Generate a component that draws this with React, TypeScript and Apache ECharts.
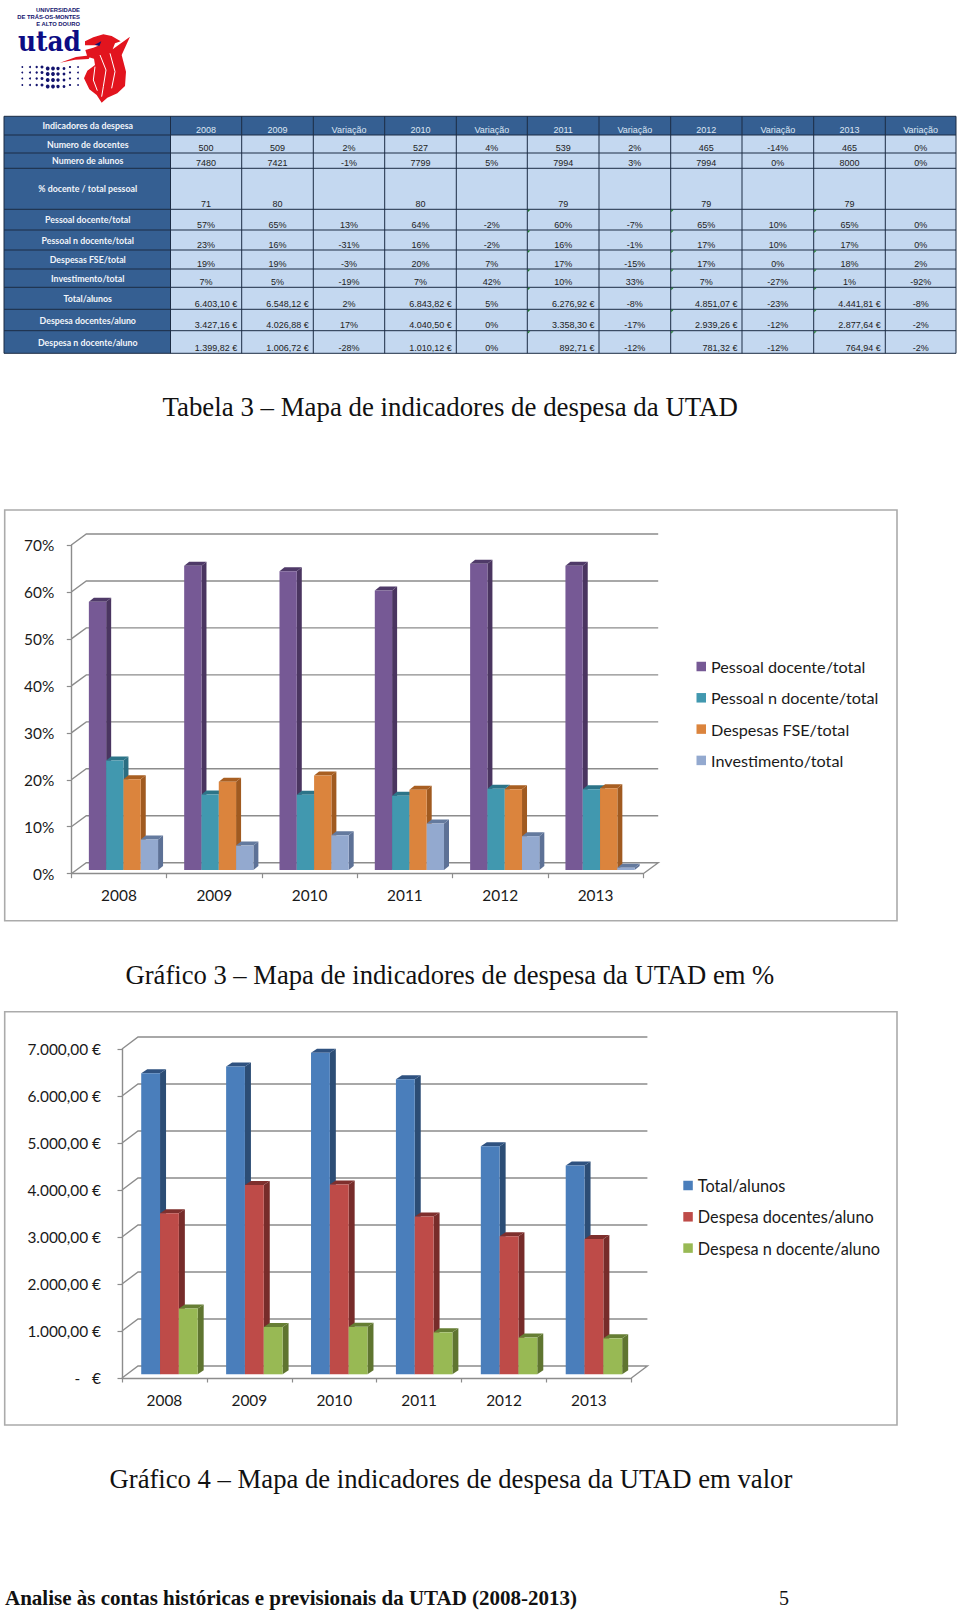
import React, { useEffect, useRef } from "react";
import * as echarts from "echarts";

const years = ["2008", "2009", "2010", "2011", "2012", "2013"];

const pessoalDocente = [57.1, 64.8, 63.6, 59.5, 65.2, 64.8];
const pessoalNDocente = [23.3, 16.1, 16.0, 15.8, 17.3, 17.2];
const despesasFSE = [19.3, 18.8, 20.1, 17.1, 17.2, 17.4];
const investimento = [6.5, 5.2, 7.4, 9.9, 7.2, 0.5];

const totalAlunos = [6403.1, 6548.12, 6843.82, 6276.92, 4851.07, 4441.81];
const despesaDocentes = [3427.16, 4026.88, 4040.5, 3358.3, 2939.26, 2877.64];
const despesaNDocente = [1399.82, 1006.72, 1010.12, 892.71, 781.32, 764.94];

const pctTicks = ["0%", "10%", "20%", "30%", "40%", "50%", "60%", "70%"];
const eurTicks = ["-   €", "1.000,00 €", "2.000,00 €", "3.000,00 €", "4.000,00 €", "5.000,00 €", "6.000,00 €", "7.000,00 €"];

const tableHeader = ["Indicadores da despesa", "2008", "2009", "Variação", "2010", "Variação", "2011", "Variação", "2012", "Variação", "2013", "Variação"];
const rowDocentes = ["Numero de docentes", "500", "509", "2%", "527", "4%", "539", "2%", "465", "-14%", "465", "0%"];
const rowAlunos = ["Numero de alunos", "7480", "7421", "-1%", "7799", "5%", "7994", "3%", "7994", "0%", "8000", "0%"];
const rowPctDocente = ["% docente / total pessoal", "71", "80", "", "80", "", "79", "", "79", "", "79", ""];
const rowPessoalD = ["Pessoal docente/total", "57%", "65%", "13%", "64%", "-2%", "60%", "-7%", "65%", "10%", "65%", "0%"];
const rowPessoalN = ["Pessoal n docente/total", "23%", "16%", "-31%", "16%", "-2%", "16%", "-1%", "17%", "10%", "17%", "0%"];
const rowFSE = ["Despesas FSE/total", "19%", "19%", "-3%", "20%", "7%", "17%", "-15%", "17%", "0%", "18%", "2%"];
const rowInvest = ["Investimento/total", "7%", "5%", "-19%", "7%", "42%", "10%", "33%", "7%", "-27%", "1%", "-92%"];
const rowTotal = ["Total/alunos", "6.403,10 €", "6.548,12 €", "2%", "6.843,82 €", "5%", "6.276,92 €", "-8%", "4.851,07 €", "-23%", "4.441,81 €", "-8%"];
const rowDespD = ["Despesa docentes/aluno", "3.427,16 €", "4.026,88 €", "17%", "4.040,50 €", "0%", "3.358,30 €", "-17%", "2.939,26 €", "-12%", "2.877,64 €", "-2%"];
const rowDespN = ["Despesa n docente/aluno", "1.399,82 €", "1.006,72 €", "-28%", "1.010,12 €", "0%", "892,71 €", "-12%", "781,32 €", "-12%", "764,94 €", "-2%"];
const tableRows = [tableHeader, rowDocentes, rowAlunos, rowPctDocente, rowPessoalD, rowPessoalN, rowFSE, rowInvest, rowTotal, rowDespD, rowDespN];

const colEdges = [4, 170.5, 241.7, 313.3, 384.7, 456.3, 527.3, 599, 670.7, 742, 813.7, 885.3, 956];
const rowEdges = [116.3, 135, 153, 168.3, 209.3, 230, 250, 269, 287.3, 309.3, 330.7, 353.3];

const SANS = "Lato";
const ARIAL = "Liberation Sans";
const SERIF = "Liberation Serif";

function build3DBar(color: string, side: string, top: string, idx: number, count: number, cfg: any) {
  return (params: any, api: any) => {
    const band = api.size([1, 0])[0];
    const c = api.coord([api.value(0), api.value(1)]);
    const zero = api.coord([api.value(0), 0]);
    const w = (band * cfg.barFrac) / count;
    const xl = c[0] - (band * cfg.barFrac) / 2 + idx * w + cfg.baseX;
    const xr = xl + w;
    const yt = c[1] - cfg.baseY;
    const yb = zero[1] - cfg.baseY;
    const d = cfg.depthX;
    const h = cfg.depthY;
    return {
      type: "group",
      children: [
        { type: "polygon", shape: { points: [[xr, yt], [xr + d, yt - h], [xr + d, yb - h], [xr, yb]] }, style: { fill: side } },
        { type: "polygon", shape: { points: [[xl, yt], [xl + d, yt - h], [xr + d, yt - h], [xr, yt]] }, style: { fill: top } },
        { type: "rect", shape: { x: xl, y: yt, width: w, height: yb - yt }, style: { fill: color } },
      ],
    };
  };
}

function buildWall(cfg: any) {
  return (params: any, api: any) => {
    const y = api.coord([0, api.value(0)])[1];
    const r = params.coordSys;
    const bx = cfg.wallX;
    const by = y - cfg.wallY;
    const pts: number[][] = [[r.x, y], [r.x + bx, by], [r.x + r.width + bx, by]];
    if (api.value(0) === 0) pts.push([r.x + r.width, y]);
    return { type: "polyline", shape: { points: pts }, style: { stroke: "#8c8c8c", lineWidth: 1.4, fill: "none" } };
  };
}

function buildChart(cfg: any, index: number) {
  const axisLine = { show: true, lineStyle: { color: "#8c8c8c", width: 1.4 } };
  const tick = { show: true, length: 4.5, lineStyle: { color: "#8c8c8c", width: 1.2 } };
  const grid = { left: cfg.left, width: cfg.width, top: cfg.top, height: cfg.height };
  const xAxis = {
    type: "category",
    gridIndex: index,
    data: years,
    axisLine,
    axisTick: tick,
    axisLabel: { fontFamily: SANS, fontSize: cfg.fontSize, color: "#1a1a1a", margin: cfg.xMargin },
    splitLine: { show: false },
  };
  const yAxis = {
    type: "value",
    gridIndex: index,
    min: 0,
    max: cfg.max,
    interval: cfg.max / 7,
    axisLine,
    axisTick: tick,
    splitLine: { show: false },
    axisLabel: {
      fontFamily: SANS,
      fontSize: cfg.fontSize,
      color: "#1a1a1a",
      margin: cfg.yMargin,
      formatter: (v: number) => cfg.ticks[Math.round(v / (cfg.max / 7))],
    },
  };
  const tickValues = cfg.ticks.map((_: string, i: number) => [(i * cfg.max) / 7]);
  const series: any[] = [
    {
      type: "custom",
      name: "wall" + index,
      coordinateSystem: "cartesian2d",
      xAxisIndex: index,
      yAxisIndex: index,
      silent: true,
      clip: false,
      z: 1,
      encode: { y: 0 },
      data: tickValues,
      renderItem: buildWall(cfg),
    },
  ];
  cfg.series.forEach((s: any, idx: number) => {
    series.push({
      type: "custom",
      name: s.name,
      coordinateSystem: "cartesian2d",
      xAxisIndex: index,
      yAxisIndex: index,
      silent: true,
      clip: false,
      z: 2 + idx,
      itemStyle: { color: s.color },
      encode: { x: 0, y: 1 },
      data: s.values.map((v: number, i: number) => [i, v]),
      renderItem: build3DBar(s.color, s.side, s.top, idx, cfg.series.length, cfg),
    });
  });
  const legend = {
    orient: "vertical",
    left: cfg.legendLeft,
    top: cfg.legendTop,
    itemWidth: 9.5,
    itemHeight: 9.5,
    itemGap: cfg.legendGap,
    selectedMode: false,
    icon: "rect",
    textStyle: { fontFamily: SANS, fontSize: cfg.legendFont, color: "#1a1a1a" },
    data: cfg.series.map((s: any) => ({ name: s.name, itemStyle: { color: s.color } })),
  };
  return { grid, xAxis, yAxis, series, legend };
}

const navy = "#14146e";
const red = "#e2141e";

function logo(): any[] {
  const Z = (p: number[][]) => p.map(([x, y]) => [x / 3, y / 3]);
  const out: any[] = [];
  ["UNIVERSIDADE", "DE TRÁS-OS-MONTES", "E ALTO DOURO"].forEach((t, i) => {
    out.push({ type: "text", x: 80, y: 10 + i * 7, scaleX: 1.04, style: { text: t, fontFamily: ARIAL, fontWeight: "bold", fontSize: 5.6, fill: navy, align: "right", verticalAlign: "middle" } });
  });
  out.push({ type: "text", x: 18, y: 55.5, scaleX: 0.92, style: { text: "utad", fontFamily: "DejaVu Serif", fontWeight: "bold", fontSize: 27, fill: "#0c0c84", align: "left", verticalAlign: "bottom" } });
  const dotCols = [22.3, 30, 36.7, 42, 47.7, 53, 58, 64, 70, 78];
  const dotSize = [0.9, 1, 1.2, 1.5, 1.9, 1.9, 1.7, 1.4, 1.1, 0.9];
  const dotRows = [67, 72.5, 78.5, 85];
  dotRows.forEach((y, r) => dotCols.forEach((x, c) => {
    out.push({ type: "circle", shape: { cx: x, cy: y + (c > 3 && c < 8 ? 1.5 : 0), r: dotSize[c] }, style: { fill: navy } });
  }));
  out.push({ type: "polygon", shape: { points: Z([[180, 188], [228, 171], [272, 166], [266, 177], [225, 179]]) }, style: { fill: red } });
  out.push({
    type: "polygon",
    shape: {
      points: Z([[255, 124], [280, 112], [310, 103], [335, 108], [362, 124], [345, 130], [338, 148], [390, 110], [365, 165], [378, 215], [375, 258], [352, 280], [322, 293], [305, 308], [290, 285], [268, 268], [252, 235], [262, 212], [285, 195], [282, 176], [262, 170], [256, 150], [280, 143], [298, 136], [255, 136]]),
    },
    style: { fill: red },
  });
  [[[300, 165], [318, 210], [310, 260], [305, 290]], [[330, 160], [345, 215], [335, 265]], [[285, 200], [280, 240], [292, 272]]].forEach((l) => {
    out.push({ type: "polyline", shape: { points: Z(l) }, style: { stroke: "#ffffff", lineWidth: 1, fill: "none" } });
  });
  out.push({ type: "polygon", shape: { points: Z([[284, 134], [304, 124], [298, 138]]) }, style: { fill: navy } });
  return out;
}

function table(): any[] {
  const out: any[] = [];
  const nR = tableRows.length;
  const nC = colEdges.length - 1;
  out.push({ type: "rect", shape: { x: colEdges[0], y: rowEdges[0], width: colEdges[1] - colEdges[0], height: rowEdges[nR] - rowEdges[0] }, style: { fill: "#355f92" } });
  out.push({ type: "rect", shape: { x: colEdges[1], y: rowEdges[0], width: colEdges[nC] - colEdges[1], height: rowEdges[1] - rowEdges[0] }, style: { fill: "#355f92" } });
  out.push({ type: "rect", shape: { x: colEdges[1], y: rowEdges[1], width: colEdges[nC] - colEdges[1], height: rowEdges[nR] - rowEdges[1] }, style: { fill: "#c4d8f0" } });
  const line = "#1c2c44";
  rowEdges.forEach((y) => out.push({ type: "line", shape: { x1: colEdges[0], y1: y, x2: colEdges[nC], y2: y }, style: { stroke: line, lineWidth: 1 } }));
  colEdges.forEach((x) => out.push({ type: "line", shape: { x1: x, y1: rowEdges[0], x2: x, y2: rowEdges[nR] }, style: { stroke: line, lineWidth: 1 } }));
  tableRows.forEach((row, r) => {
    const top = rowEdges[r];
    const bottom = rowEdges[r + 1];
    row.forEach((t, c) => {
      if (!t) return;
      if (c === 0) {
        out.push({ type: "text", x: (colEdges[0] + colEdges[1]) / 2 + 0.5, y: (top + bottom) / 2, style: { text: t, fontFamily: SANS, fontWeight: "bold", fontSize: 8.8, fill: "#f2f5fa", align: "center", verticalAlign: "middle" } });
      } else {
        const euro = t.endsWith("€");
        out.push({
          type: "text",
          x: euro ? colEdges[c + 1] - 4.5 : (colEdges[c] + colEdges[c + 1]) / 2,
          y: bottom - 5.3,
          style: { text: t, fontFamily: ARIAL, fontSize: 9, fill: r === 0 ? "#dfe7f2" : "#222222", align: euro ? "right" : "center", verticalAlign: "middle" },
        });
      }
    });
    if (r >= 4) {
      [6, 8, 10].forEach((c) => {
        const x = colEdges[c] + 0.5;
        out.push({ type: "polygon", shape: { points: [[x, top + 0.5], [x + 2.5, top + 0.5], [x, top + 3]] }, style: { fill: "#1f7a2e" } });
      });
    }
  });
  return out;
}

function caption(text: string, x: number, y: number, fontSize: number, scaleX: number, weight = "normal"): any {
  return { type: "text", x, y, scaleX, style: { text, fontFamily: SERIF, fontSize, fontWeight: weight, fill: "#111111", align: "left", verticalAlign: "middle" } };
}

function frame(x: number, y: number, w: number, h: number): any {
  return { type: "rect", shape: { x, y, width: w, height: h }, style: { fill: "none", stroke: "#ababab", lineWidth: 1.6 } };
}

export default function App() {
  const ref = useRef<HTMLDivElement>(null);
  useEffect(() => {
    document.body.style.margin = "0";
    const chart = echarts.init(ref.current!, undefined, { renderer: "svg" });
    const c1 = buildChart(
      {
        left: 71.3,
        width: 571.9,
        top: 545,
        height: 328.7,
        max: 70,
        ticks: pctTicks,
        barFrac: 0.726,
        baseX: 4.5,
        baseY: 3.7,
        depthX: 5,
        depthY: 4,
        wallX: 15,
        wallY: 11,
        fontSize: 15.4,
        xMargin: 14,
        yMargin: 17,
        legendLeft: 691.5,
        legendTop: 653.5,
        legendGap: 15.3,
        legendFont: 16.2,
        series: [
          { name: "Pessoal docente/total", values: pessoalDocente, color: "#765995", side: "#4a3560", top: "#4f3a68" },
          { name: "Pessoal n docente/total", values: pessoalNDocente, color: "#4198af", side: "#2b6e82", top: "#2c7488" },
          { name: "Despesas FSE/total", values: despesasFSE, color: "#db843d", side: "#a05a20", top: "#a85f22" },
          { name: "Investimento/total", values: investimento, color: "#93a9cf", side: "#5d7196", top: "#647a9e" },
        ],
      },
      0
    );
    const c2 = buildChart(
      {
        left: 122,
        width: 509.4,
        top: 1049,
        height: 329,
        max: 7000,
        ticks: eurTicks,
        barFrac: 0.665,
        baseX: 5,
        baseY: 3.7,
        depthX: 6,
        depthY: 4,
        wallX: 16,
        wallY: 12,
        fontSize: 15.4,
        xMargin: 14,
        yMargin: 21,
        legendLeft: 678.3,
        legendTop: 1172.5,
        legendGap: 15.3,
        legendFont: 16.3,
        series: [
          { name: "Total/alunos", values: totalAlunos, color: "#4a7ebb", side: "#2c4d75", top: "#2f5280" },
          { name: "Despesa docentes/aluno", values: despesaDocentes, color: "#be4b48", side: "#772c2a", top: "#7f2f2d" },
          { name: "Despesa n docente/aluno", values: despesaNDocente, color: "#98b954", side: "#5f7530", top: "#667e34" },
        ],
      },
      1
    );
    chart.setOption({
      animation: false,
      backgroundColor: "#ffffff",
      grid: [c1.grid, c2.grid],
      xAxis: [c1.xAxis, c2.xAxis],
      yAxis: [c1.yAxis, c2.yAxis],
      legend: [c1.legend, c2.legend],
      series: [...c1.series, ...c2.series],
      graphic: {
        elements: [
          ...logo(),
          ...table(),
          frame(4.7, 510, 892.3, 410.7),
          frame(4.7, 1011.7, 892.3, 413.3),
          caption("Tabela 3 – Mapa de indicadores de despesa da UTAD", 162.5, 407, 27, 0.995),
          caption("Gráfico 3 – Mapa de indicadores de despesa da UTAD em %", 125.5, 975, 27, 0.986),
          caption("Gráfico 4 – Mapa de indicadores de despesa da UTAD em valor", 109.5, 1478.5, 27, 0.988),
          caption("Analise às contas históricas e previsionais da UTAD (2008-2013)", 5, 1598, 21, 1, "bold"),
          caption("5", 779, 1598, 20, 1),
        ],
      },
    });
    return () => chart.dispose();
  }, []);
  return <div ref={ref} style={{ width: 960, height: 1611, position: "absolute", left: 0, top: 0 }} />;
}
